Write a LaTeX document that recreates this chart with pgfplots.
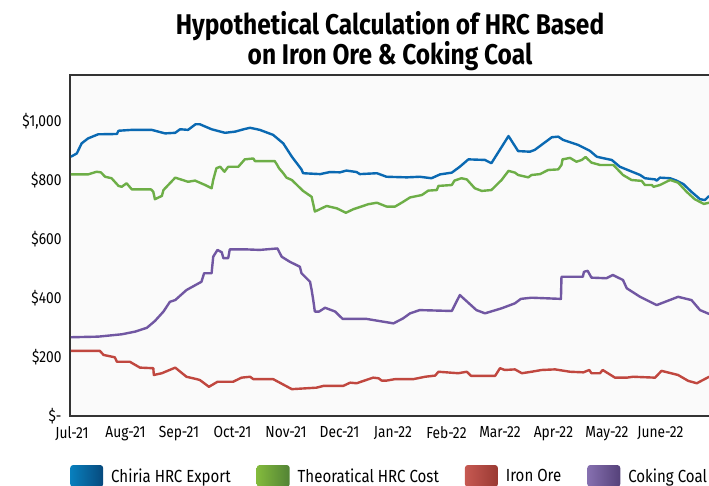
\documentclass[border=0pt]{standalone}
\usepackage{fontspec}
\setmainfont{Fira Sans}[FakeStretch=0.86]
\usepackage{pgfplots}
\pgfplotsset{compat=1.18}
\definecolor{cblue}{HTML}{0A69B2}
\definecolor{cgreen}{HTML}{6DAE47}
\definecolor{cred}{HTML}{C0473F}
\definecolor{cpurple}{HTML}{7157A2}
\definecolor{bgray}{HTML}{FAFAFA}
\begin{document}
\begin{tikzpicture}
\begin{axis}[
  at={(70pt,70pt)}, anchor=south west,
  scale only axis, width=645pt, height=341pt,
  xmin=-0.037, xmax=12.02, ymin=0, ymax=1156,
  axis background/.style={fill=bgray},
  axis line style={black!80, line width=1.1pt},
  major tick length=0pt,
  xtick={0,1,...,11},
  xticklabels={Jul-21,Aug-21,Sep-21,Oct-21,Nov-21,Dec-21,Jan-22,Feb-22,Mar-22,Apr-22,May-22,June-22},
  ytick={0,200,400,600,800,1000},
  yticklabels={\$-,\$200,\$400,\$600,\$800,{\$1,000}},
  tick label style={font=\fontsize{16}{18}\selectfont},
  xticklabel style={yshift=-7pt},
  yticklabel style={xshift=-5pt},
  every axis plot/.append style={line width=2.4pt, line join=round, forget plot},
  legend columns=4,
  legend image code/.code={\shade[#1, rounded corners=3pt] (0pt,-11pt) rectangle (33pt,11pt);},
  legend style={at={(0,-0.176)}, anchor=west, draw=none, fill=none, inner sep=0pt,
    font=\fontsize{17.5}{19}\selectfont,
    nodes={inner sep=0pt},
    /tikz/every odd column/.append style={column sep=8pt},
    /tikz/every even column/.append style={column sep=26pt}},
  legend cell align=left,
]
% Chiria HRC Export
\addplot[cblue] table {
-0.02 879
0.09 890
0.18 924
0.30 941
0.49 955
0.84 956
0.87 967
1.12 970
1.49 970
1.74 958
1.93 960
2.02 972
2.17 970
2.31 989
2.39 989
2.61 972
2.86 960
3.05 964
3.23 973
3.33 977
3.51 970
3.76 953
3.95 924
4.11 879
4.29 836
4.32 823
4.64 820
4.82 827
5.01 826
5.13 832
5.32 827
5.38 820
5.70 823
5.88 811
6.26 809
6.50 811
6.72 806
6.88 819
7.10 825
7.25 845
7.41 870
7.72 868
7.84 857
8.16 949
8.34 898
8.56 896
8.65 902
8.97 945
9.09 947
9.18 936
9.46 919
9.68 899
9.81 879
9.93 874
10.09 868
10.24 845
10.62 817
10.71 806
10.90 802
10.93 798
10.99 808
11.18 806
11.30 798
11.43 786
11.58 760
11.74 735
11.83 732
11.91 746
};
% Theoretical HRC Cost
\addplot[cgreen] table {
-0.02 819
0.30 819
0.46 828
0.54 826
0.62 811
0.74 806
0.87 780
0.93 777
1.02 789
1.12 768
1.48 768
1.52 760
1.55 735
1.68 746
1.71 766
1.93 808
2.17 794
2.30 798
2.49 783
2.61 772
2.64 800
2.70 840
2.77 845
2.85 828
2.92 845
3.11 845
3.23 870
3.39 873
3.42 864
3.79 864
3.83 853
3.87 840
3.95 823
4.01 808
4.11 800
4.32 763
4.48 743
4.52 710
4.54 693
4.76 712
4.95 704
5.12 689
5.26 701
5.54 718
5.70 723
5.88 710
6.04 710
6.19 726
6.32 741
6.54 749
6.66 764
6.82 766
6.85 780
7.10 783
7.15 798
7.28 806
7.38 802
7.53 772
7.66 763
7.84 766
8.03 800
8.16 831
8.28 825
8.34 817
8.53 809
8.59 817
8.75 820
8.90 834
9.09 836
9.15 851
9.17 870
9.31 875
9.43 862
9.53 868
9.60 878
9.71 859
9.87 851
10.12 851
10.30 817
10.46 800
10.65 797
10.71 783
10.84 783
10.87 777
10.99 783
11.18 800
11.33 791
11.49 760
11.64 735
11.81 719
11.91 723
};
% Iron Ore
\addplot[cred] table {
-0.02 221
0.52 221
0.59 207
0.80 199
0.84 184
1.08 184
1.27 164
1.52 162
1.53 139
1.68 145
1.93 164
2.14 133
2.33 125
2.39 122
2.56 99
2.72 116
3.01 116
3.17 130
3.33 133
3.39 125
3.76 125
4.11 91
4.57 96
4.70 102
5.07 102
5.20 113
5.32 111
5.63 130
5.73 128
5.79 120
5.88 120
6.04 125
6.38 125
6.60 133
6.79 137
6.85 150
7.22 145
7.38 150
7.46 136
7.91 136
8.00 162
8.09 156
8.28 158
8.41 145
8.59 150
8.78 156
9.03 158
9.31 150
9.56 148
9.67 156
9.71 145
9.87 145
9.92 156
10.15 130
10.37 130
10.49 133
10.90 130
11.02 153
11.33 139
11.52 119
11.68 111
11.91 133
};
% Coking Coal
\addplot[cpurple] table {
-0.02 267
0.49 269
0.93 277
1.18 286
1.40 299
1.55 322
1.71 354
1.83 387
1.93 393
2.14 427
2.42 455
2.47 484
2.61 484
2.64 540
2.72 563
2.80 555
2.83 535
2.92 535
2.95 565
3.23 565
3.51 563
3.84 568
3.92 540
4.07 523
4.26 506
4.29 484
4.45 455
4.48 427
4.51 393
4.54 354
4.62 354
4.73 367
4.92 354
5.06 329
5.51 329
6.01 314
6.19 331
6.32 348
6.50 359
7.10 356
7.25 410
7.56 359
7.72 348
8.03 365
8.28 382
8.39 397
8.59 401
9.14 397
9.15 472
9.55 472
9.57 489
9.64 492
9.71 469
9.99 467
10.11 478
10.30 461
10.37 433
10.62 404
10.93 376
11.33 404
11.58 393
11.74 359
11.91 346
};
\addlegendimage{left color=cblue!85!cyan, right color=cblue!70!black, draw=none}
\addlegendentry{Chiria HRC Export}
\addlegendimage{left color=cgreen!85!yellow, right color=cgreen!75!black, draw=none}
\addlegendentry{Theoratical HRC Cost}
\addlegendimage{left color=cred!90!white, right color=cred!80!black, draw=none}
\addlegendentry{Iron Ore}
\addlegendimage{left color=cpurple!85!white, right color=cpurple!75!black, draw=none}
\addlegendentry{Coking Coal}
\end{axis}
\node[font=\bfseries\fontsize{28.5}{28}\selectfont, align=center] at (390pt,445pt)
  {Hypothetical Calculation of HRC Based\\on Iron Ore \& Coking Coal};
\pgfresetboundingbox
\path (0pt,0pt) rectangle (709pt,486pt);
\end{tikzpicture}
\end{document}
